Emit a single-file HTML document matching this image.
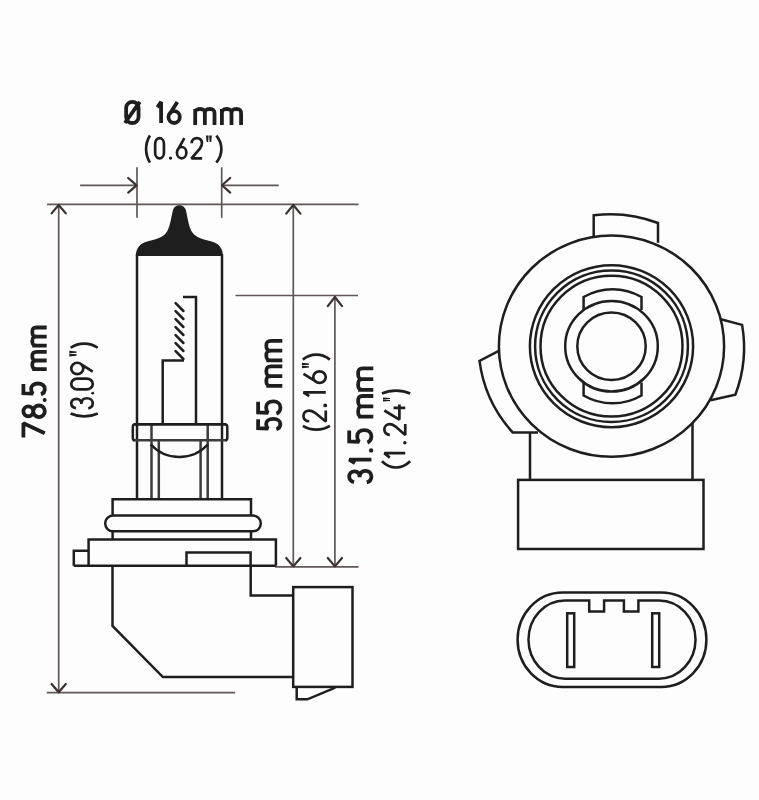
<!DOCTYPE html>
<html><head><meta charset="utf-8">
<style>
html,body{margin:0;padding:0;background:#fdfdfd;}
svg{display:block;}
.d{stroke:#605757;stroke-width:1.7;fill:none;}
.a{stroke:#3a3131;stroke-width:2.2;fill:none;stroke-linecap:round;stroke-linejoin:round;}
.k{stroke:#1e1e1e;stroke-width:2.5;fill:none;}
.g{stroke:#3c3c3c;stroke-width:2.5;fill:none;}
.t{font-family:"Liberation Sans",sans-serif;fill:#1e1e1e;}
.tb text{font-family:"Liberation Sans",sans-serif;font-size:100px;fill:#1e1e1e;stroke:#1e1e1e;stroke-width:1.3px;vector-effect:non-scaling-stroke;}
.tr text{font-family:"Liberation Sans",sans-serif;font-size:100px;fill:#1e1e1e;}
.s{fill:none;stroke:#1e1e1e;vector-effect:non-scaling-stroke;stroke-linecap:butt;stroke-linejoin:miter;stroke-miterlimit:1.6;}
.q{fill:#1e1e1e;}
</style></head>
<body>
<svg width="759" height="800" viewBox="0 0 759 800">
<rect width="759" height="800" fill="#fdfdfd"/>

<!-- ===== dimension lines ===== -->
<g class="d">
  <line x1="47" y1="204.3" x2="358.6" y2="204.3"/>
  <line x1="58.7" y1="204.3" x2="58.7" y2="692.6"/>
  <line x1="46.8" y1="692.6" x2="235.2" y2="692.6"/>
  <line x1="137" y1="167.3" x2="137" y2="217.8"/>
  <line x1="221.7" y1="167.3" x2="221.7" y2="217.8"/>
  <line x1="80.1" y1="185.3" x2="137" y2="185.3"/>
  <line x1="221.7" y1="185.3" x2="278.7" y2="185.3"/>
  <line x1="235.5" y1="295.5" x2="358" y2="295.5"/>
  <line x1="293.3" y1="204.3" x2="293.3" y2="566.8"/>
  <line x1="334.9" y1="296" x2="334.9" y2="566.8"/>
  <line x1="275.2" y1="566.8" x2="358.6" y2="566.8"/>
</g>
<g class="a">
  <polyline points="51.6,213.4 58.7,205 65.8,213.4"/>
  <polyline points="51.6,684 58.7,692.3 65.8,684"/>
  <polyline points="286.2,213.6 293.3,205 300.4,213.6"/>
  <polyline points="286.2,558 293.3,566.4 300.4,558"/>
  <polyline points="327.8,306.2 334.9,297 342,306.2"/>
  <polyline points="327.8,558 334.9,566.4 342,558"/>
  <polyline points="128.2,178 136.6,185.3 128.2,192.6"/>
  <polyline points="230.2,178 222,185.3 230.2,192.6"/>
</g>

<!-- ===== bulb (side view) ===== -->
<path fill="#1e1e1e" d="M135.9,256 C135.9,249 139,243.5 148,241.2 C156,239.5 163,237 166,233 C170,228 171,218 173,210 C174.5,203.6 184.3,203.6 185.8,210 C187.8,218 188.8,228 192.8,233 C195.8,237 202.8,239.5 210.8,241.2 C219.8,243.5 222.9,249 222.9,256 Z"/>
<g class="k">
  <line x1="137" y1="254" x2="137" y2="499"/>
  <line x1="222" y1="254" x2="222" y2="499"/>
  <polyline points="183,297 196,297 196,424"/>
  <polyline points="184,360.6 162.7,360.6 162.7,424"/>
</g>
<g stroke="#1e1e1e" stroke-width="2.5" stroke-linecap="round">
  <line x1="175.6" y1="303.2" x2="183.4" y2="311.0"/>
  <line x1="175.6" y1="311.2" x2="183.4" y2="319.0"/>
  <line x1="175.6" y1="319.2" x2="183.4" y2="327.0"/>
  <line x1="175.6" y1="327.2" x2="183.4" y2="335.0"/>
  <line x1="175.6" y1="335.2" x2="183.4" y2="343.0"/>
  <line x1="175.6" y1="343.2" x2="183.4" y2="351.0"/>
  <line x1="175.6" y1="351.2" x2="183.4" y2="359.0"/>
</g>
<!-- collar -->
<g class="g">
  <line x1="151.5" y1="424" x2="151.5" y2="499"/>
  <line x1="207.7" y1="424" x2="207.7" y2="499"/>
  <line x1="158.8" y1="439.5" x2="158.8" y2="499"/>
  <line x1="200.6" y1="439.5" x2="200.6" y2="499"/>
  <line x1="133" y1="440.2" x2="227" y2="440.2"/>
</g>
<path class="k" stroke-width="2" d="M150.8,444.5 A38.7,38.7 0 0 0 207.8,444.5"/>
<path class="k" d="M134.5,440.2 Q132.8,440.2 132.8,437.5 L132.8,427 Q132.8,424.3 135.5,424.3 L224.5,424.3 Q227.3,424.3 227.3,427 L227.3,437.5 Q227.3,440.2 225.5,440.2"/>
<line class="k" stroke-width="3" x1="134" y1="424.3" x2="226" y2="424.3"/>

<!-- base -->
<g class="k">
  <polyline points="112.6,515.6 112.6,499.3 251,499.3 251,515.6"/>
  <rect x="105.2" y="515.6" width="155.6" height="15.7" rx="7.8" ry="7.8"/>
  <line x1="112.6" y1="531.3" x2="112.6" y2="539.6"/>
  <line x1="251" y1="531.3" x2="251" y2="539.6"/>
  <polyline points="88.6,565.8 88.6,539.6 275.9,539.6 275.9,565.8"/>
  <polyline points="73.8,565.8 73.8,550.8 88.6,550.8"/>
  <polyline points="186.5,565.8 186.5,552.4 250.6,552.4 250.6,565.8"/>
  <line x1="73.8" y1="565.8" x2="275.9" y2="565.8"/>
  <polyline points="112.5,566 112.5,626 162.9,677.1 292.6,677.1"/>
  <polyline points="250.7,566 250.7,595.4 292.6,595.4"/>
  <rect x="293.2" y="587.1" width="59.3" height="99.8"/>
  <polyline points="296.7,687 296.7,699.3 307.4,699.3 335.3,687.7"/>
</g>

<!-- ===== socket front view ===== -->
<g class="k" stroke-width="2.4">
  <ellipse cx="611.5" cy="346.2" rx="112.6" ry="110.6"/>
  <path d="M593.7,236.5 L593.7,215.3 A131.7,131.7 0 0 1 658,223 L658,242.7"/>
  <path d="M498.8,350.8 L479.5,360.9 A132,132 0 0 0 512.8,432.6 L538,432.6"/>
  <path d="M720.8,319.3 L742.1,324.9 A132.5,132.5 0 0 1 735.4,394.6 L710.6,400.3"/>
  <line x1="530" y1="432.6" x2="530" y2="480"/>
  <line x1="692.5" y1="423" x2="692.5" y2="480"/>
  <rect x="518.1" y="479.9" width="185.4" height="69.1"/>
</g>
<g class="k" stroke-width="2">
  <ellipse cx="611.5" cy="346.2" rx="81.6" ry="81"/>
  <ellipse cx="611.5" cy="346.2" rx="76.4" ry="75.8"/>
  <ellipse cx="611.5" cy="346.2" rx="71" ry="70.4"/>
  <ellipse cx="611.5" cy="346.2" rx="46.3" ry="45.3"/>
  <ellipse cx="611.5" cy="346.2" rx="34.2" ry="33.8"/>
  <path d="M583.6,310 L583.6,297 A57.5,57.5 0 0 1 641.5,297 L641.5,310"/>
  <path d="M583.6,382.5 L583.6,395.5 A57.5,57.5 0 0 0 641.5,395.5 L641.5,382.5"/>
</g>

<!-- connector front -->
<g class="k" stroke-width="2.4">
  <rect x="517.6" y="592.6" width="188.8" height="94.4" rx="45" ry="47.2"/>
  <path d="M589.2,600.4 L565,600.4 A36.5,39.1 0 0 0 565,678.7 L659,678.7 A36.5,39.1 0 0 0 659,600.4 L638.4,600.4 L638.4,611.4 L623.9,611.4 L623.9,600.4 L604.1,600.4 L604.1,611.4 L589.2,611.4 Z"/>
  <rect x="567.2" y="613.3" width="7" height="53.7"/>
  <rect x="652.2" y="613.3" width="7" height="53.7"/>
</g>

<!-- ===== labels ===== -->
<g><path class="s" stroke-width="3.80" transform="translate(124.90,101.90) scale(0.2483,0.2110)" d="M5,28 A25,28 0 0 1 55,28 L55,72 A25,28 0 0 1 5,72 Z M0,100 L60,0"/><path class="s" stroke-width="3.80" transform="translate(157.40,101.90) scale(0.1233,0.2110)" d="M0,26 L30,0 L30,100"/><path class="s" stroke-width="3.80" transform="translate(168.50,101.90) scale(0.2018,0.2110)" d="M44,0 L6,57 M0,72 A28,28 0 1 0 56,72 A28,28 0 1 0 0,72 Z"/><path class="s" stroke-width="3.80" d="M195.20,124.90 L195.20,109.00 M195.20,113.77 C195.20,109.80 196.65,109.00 200.03,109.00 C203.40,109.00 204.85,109.80 204.85,113.77 L204.85,124.90 M204.85,113.77 C204.85,109.80 206.30,109.00 209.68,109.00 C213.05,109.00 214.50,109.80 214.50,113.77 L214.50,124.90 "/><path class="s" stroke-width="3.80" d="M221.90,124.90 L221.90,109.00 M221.90,113.77 C221.90,109.80 223.34,109.00 226.70,109.00 C230.06,109.00 231.50,109.80 231.50,113.77 L231.50,124.90 M231.50,113.77 C231.50,109.80 232.94,109.00 236.30,109.00 C239.66,109.00 241.10,109.80 241.10,113.77 L241.10,124.90 "/></g>
<g><path class="s" stroke-width="2.70" transform="translate(146.05,135.55) scale(0.1773,0.2710)" d="M22,0 C-7,30 -7,70 22,100"/><path class="s" stroke-width="2.70" transform="translate(155.15,138.05) scale(0.1571,0.2030)" d="M0,28 A28,28 0 0 1 56,28 L56,72 A28,28 0 0 1 0,72 Z"/><circle cx="170.55" cy="158.05" r="1.65" fill="#1e1e1e"/><path class="s" stroke-width="2.70" transform="translate(176.95,138.05) scale(0.1679,0.2030)" d="M44,0 L6,57 M0,72 A28,28 0 1 0 56,72 A28,28 0 1 0 0,72 Z"/><path class="s" stroke-width="2.70" transform="translate(191.45,138.05) scale(0.1911,0.2030)" d="M1,26 C1,10 13,0 28,0 C44,0 55,11 55,26 C55,37 50,44 44,52 L0,100 L56,100"/><path class="q" d="M205.90,135.50 L208.66,135.50 L208.18,142.10 L206.62,142.10 Z M209.14,135.50 L211.90,135.50 L211.18,142.10 L209.62,142.10 Z"/><path class="s" stroke-width="2.70" transform="translate(216.35,135.55) scale(0.2318,0.2710)" d="M0,0 C29,30 29,70 0,100"/></g>
<g transform="rotate(-90)"><path class="s" stroke-width="3.80" transform="translate(-437.40,23.40) scale(0.2611,0.2140)" d="M0,0 L54,0 L16,100"/><path class="s" stroke-width="3.80" transform="translate(-417.10,23.40) scale(0.2071,0.2140)" d="M28,46 A24,23 0 1 1 28,0 A24,23 0 1 1 28,46 Z M28,100 A28,27 0 1 1 28,46 A28,27 0 1 1 28,100 Z"/><circle cx="-399.90" cy="44.70" r="2.00" fill="#1e1e1e"/><path class="s" stroke-width="3.80" transform="translate(-394.30,23.40) scale(0.2000,0.2140)" d="M52,0 L5,0 L3,45 C9,39 17,36 27,36 C44,36 54,49 54,68 C54,88 42,100 27,100 C14,100 4,93 0,82"/><path class="s" stroke-width="3.80" d="M-369.10,46.70 L-369.10,32.30 M-369.10,36.62 C-369.10,33.02 -367.81,32.30 -364.80,32.30 C-361.79,32.30 -360.50,33.02 -360.50,36.62 L-360.50,46.70 M-360.50,36.62 C-360.50,33.02 -359.21,32.30 -356.20,32.30 C-353.19,32.30 -351.90,33.02 -351.90,36.62 L-351.90,46.70 "/><path class="s" stroke-width="3.80" d="M-345.60,46.70 L-345.60,32.30 M-345.60,36.62 C-345.60,33.02 -344.24,32.30 -341.08,32.30 C-337.91,32.30 -336.55,33.02 -336.55,36.62 L-336.55,46.70 M-336.55,36.62 C-336.55,33.02 -335.19,32.30 -332.02,32.30 C-328.86,32.30 -327.50,33.02 -327.50,36.62 L-327.50,46.70 "/></g>
<g transform="rotate(-90)"><path class="s" stroke-width="2.70" transform="translate(-416.35,70.65) scale(0.1318,0.2710)" d="M22,0 C-7,30 -7,70 22,100"/><path class="s" stroke-width="2.70" transform="translate(-408.45,71.25) scale(0.1821,0.2150)" d="M1,22 C4,8 15,0 28,0 C43,0 53,10 53,24 C53,38 43,47 25,47 M25,47 C44,47 56,57 56,73 C56,89 44,100 28,100 C14,100 3,92 0,79"/><circle cx="-393.20" cy="92.70" r="1.40" fill="#1e1e1e"/><path class="s" stroke-width="2.70" transform="translate(-389.35,71.25) scale(0.1929,0.2150)" d="M0,28 A28,28 0 0 1 56,28 L56,72 A28,28 0 0 1 0,72 Z"/><path class="s" stroke-width="2.70" transform="translate(-374.15,71.25) scale(0.2036,0.2150)" d="M12,100 L50,43 M56,28 A28,28 0 1 0 0,28 A28,28 0 1 0 56,28 Z"/><path class="q" d="M-356.40,69.30 L-353.78,69.30 L-354.23,76.60 L-355.72,76.60 Z M-353.32,69.30 L-350.70,69.30 L-351.38,76.60 L-352.87,76.60 Z"/><path class="s" stroke-width="2.70" transform="translate(-347.75,70.65) scale(0.1864,0.2710)" d="M0,0 C29,30 29,70 0,100"/></g>
<g transform="rotate(-90)"><path class="s" stroke-width="3.80" transform="translate(-429.20,258.10) scale(0.1907,0.2230)" d="M52,0 L5,0 L3,45 C9,39 17,36 27,36 C44,36 54,49 54,68 C54,88 42,100 27,100 C14,100 4,93 0,82"/><path class="s" stroke-width="3.80" transform="translate(-413.60,258.10) scale(0.2259,0.2230)" d="M52,0 L5,0 L3,45 C9,39 17,36 27,36 C44,36 54,49 54,68 C54,88 42,100 27,100 C14,100 4,93 0,82"/><path class="s" stroke-width="3.80" d="M-385.80,282.30 L-385.80,266.30 M-385.80,271.10 C-385.80,267.10 -384.34,266.30 -380.93,266.30 C-377.51,266.30 -376.05,267.10 -376.05,271.10 L-376.05,282.30 M-376.05,271.10 C-376.05,267.10 -374.59,266.30 -371.17,266.30 C-367.76,266.30 -366.30,267.10 -366.30,271.10 L-366.30,282.30 "/><path class="s" stroke-width="3.80" d="M-360.40,282.30 L-360.40,266.30 M-360.40,271.10 C-360.40,267.10 -358.93,266.30 -355.50,266.30 C-352.07,266.30 -350.60,267.10 -350.60,271.10 L-350.60,282.30 M-350.60,271.10 C-350.60,267.10 -349.13,266.30 -345.70,266.30 C-342.27,266.30 -340.80,267.10 -340.80,271.10 L-340.80,282.30 "/></g>
<g transform="rotate(-90)"><path class="s" stroke-width="2.70" transform="translate(-429.75,302.85) scale(0.1727,0.2700)" d="M22,0 C-7,30 -7,70 22,100"/><path class="s" stroke-width="2.70" transform="translate(-421.45,303.45) scale(0.1964,0.2230)" d="M1,26 C1,10 13,0 28,0 C44,0 55,11 55,26 C55,37 50,44 44,52 L0,100 L56,100"/><circle cx="-405.40" cy="325.20" r="1.90" fill="#1e1e1e"/><path class="s" stroke-width="2.70" transform="translate(-396.15,303.45) scale(0.1267,0.2230)" d="M0,26 L30,0 L30,100"/><path class="s" stroke-width="2.70" transform="translate(-382.85,303.45) scale(0.2054,0.2230)" d="M44,0 L6,57 M0,72 A28,28 0 1 0 56,72 A28,28 0 1 0 0,72 Z"/><path class="q" d="M-368.20,302.00 L-365.72,302.00 L-366.15,309.00 L-367.55,309.00 Z M-365.28,302.00 L-362.80,302.00 L-363.45,309.00 L-364.85,309.00 Z"/><path class="s" stroke-width="2.70" transform="translate(-359.65,302.85) scale(0.2273,0.2700)" d="M0,0 C29,30 29,70 0,100"/></g>
<g transform="rotate(-90)"><path class="s" stroke-width="3.80" transform="translate(-482.40,349.20) scale(0.2071,0.2220)" d="M1,22 C4,8 15,0 28,0 C43,0 53,10 53,24 C53,38 43,47 25,47 M25,47 C44,47 56,57 56,73 C56,89 44,100 28,100 C14,100 3,92 0,79"/><path class="s" stroke-width="3.80" transform="translate(-463.10,349.20) scale(0.1133,0.2220)" d="M0,26 L30,0 L30,100"/><circle cx="-450.40" cy="371.10" r="2.20" fill="#1e1e1e"/><path class="s" stroke-width="3.80" transform="translate(-442.60,349.20) scale(0.2315,0.2220)" d="M52,0 L5,0 L3,45 C9,39 17,36 27,36 C44,36 54,49 54,68 C54,88 42,100 27,100 C14,100 4,93 0,82"/><path class="s" stroke-width="3.80" d="M-416.60,373.30 L-416.60,358.10 M-416.60,362.66 C-416.60,358.86 -415.06,358.10 -411.45,358.10 C-407.85,358.10 -406.30,358.86 -406.30,362.66 L-406.30,373.30 M-406.30,362.66 C-406.30,358.86 -404.75,358.10 -401.15,358.10 C-397.55,358.10 -396.00,358.86 -396.00,362.66 L-396.00,373.30 "/><path class="s" stroke-width="3.80" d="M-389.80,373.30 L-389.80,358.10 M-389.80,362.66 C-389.80,358.86 -388.19,358.10 -384.45,358.10 C-380.70,358.10 -379.10,358.86 -379.10,362.66 L-379.10,373.30 M-379.10,362.66 C-379.10,358.86 -377.50,358.10 -373.75,358.10 C-370.00,358.10 -368.40,358.86 -368.40,362.66 L-368.40,373.30 "/></g>
<g transform="rotate(-90)"><path class="s" stroke-width="2.70" transform="translate(-467.55,381.95) scale(0.2864,0.2820)" d="M22,0 C-7,30 -7,70 22,100"/><path class="s" stroke-width="2.70" transform="translate(-457.65,384.35) scale(0.1500,0.2090)" d="M0,26 L30,0 L30,100"/><circle cx="-442.75" cy="404.85" r="1.75" fill="#1e1e1e"/><path class="s" stroke-width="2.70" transform="translate(-435.05,384.35) scale(0.1982,0.2090)" d="M1,26 C1,10 13,0 28,0 C44,0 55,11 55,26 C55,37 50,44 44,52 L0,100 L56,100"/><path class="s" stroke-width="2.70" transform="translate(-419.55,384.35) scale(0.2517,0.2090)" d="M36,0 L0,72 L60,72 M46,44 L46,100"/><path class="q" d="M-401.40,383.00 L-399.56,383.00 L-399.88,390.00 L-400.92,390.00 Z M-399.24,383.00 L-397.40,383.00 L-397.88,390.00 L-398.92,390.00 Z"/><path class="s" stroke-width="2.70" transform="translate(-393.55,381.95) scale(0.1364,0.2820)" d="M0,0 C29,30 29,70 0,100"/></g>
</svg>
</body></html>
